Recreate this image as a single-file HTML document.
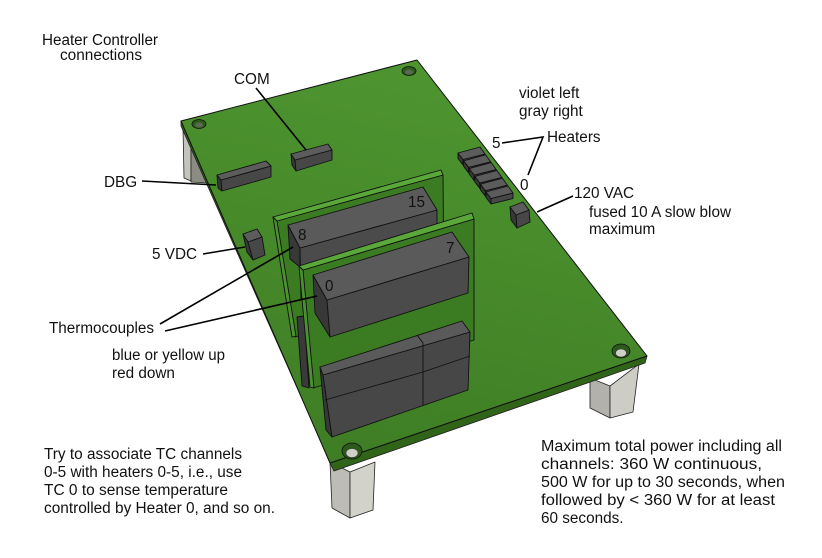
<!DOCTYPE html>
<html><head><meta charset="utf-8"><style>
html,body{margin:0;padding:0;background:#fff;}
svg{display:block;}
text{font-family:"Liberation Sans",Arial,sans-serif;font-size:15.3px;fill:#111;}
</style></head><body>
<svg width="822" height="558" viewBox="0 0 822 558" xmlns="http://www.w3.org/2000/svg">
<defs>
<linearGradient id="bg" x1="417" y1="60" x2="330" y2="463" gradientUnits="userSpaceOnUse">
<stop offset="0" stop-color="#4e9530"/><stop offset="1" stop-color="#3e7d24"/>
</linearGradient>
</defs>
<g stroke="#222" stroke-width="0.8" stroke-linejoin="round">
<!-- posts -->
<polygon points="183,128 191,128 191,181 184,178" fill="#c4c4bc"/>
<polygon points="191,128 202,128 207,183 191,182" fill="#8c8c84"/>
<polygon points="330,462 350,472 350,518 332,508" fill="#bdbdb5"/>
<polygon points="350,472 375,462 373,510 350,518" fill="#d2d2ca"/>
<polygon points="590,378 610,386 610,418 590,408" fill="#b2b2aa"/>
<polygon points="610,386 639,364 633,412 610,418" fill="#cdcdc5"/>
<!-- board -->
<polygon points="181,121 330,463 334,471 181,126" fill="#2f6319"/>
<polygon points="330,463 647,356 645,363 334,471" fill="#2f6419"/>
<polygon points="181,121 417,60 647,356 330,463" fill="url(#bg)" stroke="#111" stroke-width="1"/>
</g>
<!-- holes -->
<ellipse cx="199" cy="124" rx="7" ry="4.5" fill="#2c5a1a" stroke="#111" stroke-width="0.8"/>
<ellipse cx="199" cy="125" rx="4" ry="2.5" fill="#5a6a50"/>
<ellipse cx="409" cy="71" rx="7" ry="4.5" fill="#2c5a1a" stroke="#111" stroke-width="0.8"/>
<ellipse cx="409" cy="72" rx="4" ry="2.5" fill="#5a6a50"/>
<ellipse cx="352" cy="451" rx="10" ry="8" fill="#2c5a1a" stroke="#111" stroke-width="0.8"/>
<ellipse cx="352" cy="453" rx="6" ry="4.5" fill="#cfcfc7" stroke="#333" stroke-width="0.6"/>
<ellipse cx="621" cy="351" rx="9" ry="7" fill="#2c5a1a" stroke="#111" stroke-width="0.8"/>
<ellipse cx="621" cy="353" rx="5.5" ry="4" fill="#cfcfc7" stroke="#333" stroke-width="0.6"/>

<g stroke="#111" stroke-width="0.9" stroke-linejoin="round">
<!-- DBG -->
<polygon points="217,175 221,180 222,191 218,188" fill="#383838"/>
<polygon points="221,180 271,166 271,177 222,191" fill="#474747"/>
<polygon points="217,175 266,161 271,166 221,180" fill="#5c5c5c"/>
<!-- COM -->
<polygon points="291,154 295,160 296,171 292,165" fill="#383838"/>
<polygon points="295,160 332,150 332,160 296,171" fill="#474747"/>
<polygon points="291,154 328,144 332,150 295,160" fill="#5c5c5c"/>
<!-- 5VDC -->
<polygon points="243,234 248,242 253,260 247,252" fill="#383838"/>
<polygon points="248,242 262,237 265,255 253,260" fill="#474747"/>
<polygon points="243,234 257,229 262,237 248,242" fill="#5c5c5c"/>
<!-- heater blocks -->
<g id="hb">
<polygon points="458,153 463,159.5 463,165 458,158.5" fill="#383838"/>
<polygon points="463,159.5 485,154 485,159.5 463,165" fill="#474747"/>
<polygon points="458,153 480,147 485,154 463,159.5" fill="#5c5c5c"/>
</g>
<use href="#hb" transform="translate(5.6,7.8)"/>
<use href="#hb" transform="translate(11.2,15.6)"/>
<use href="#hb" transform="translate(16.8,23.4)"/>
<use href="#hb" transform="translate(22.4,31.2)"/>
<use href="#hb" transform="translate(28,39)"/>
<!-- 120VAC -->
<polygon points="510,207 516,215 517,228 511,220" fill="#383838"/>
<polygon points="516,215 529,210 530,222 517,228" fill="#474747"/>
<polygon points="510,207 523,202 529,210 516,215" fill="#5c5c5c"/>

<!-- card 1 -->
<polygon points="276,221 443,175 444,300 295,337" fill="#3b7b22"/>
<polygon points="273,217 277,221 296,336 292,337" fill="#4a9230"/>
<polygon points="273,217 441,170 443,175 277,221" fill="#5aa83a"/>
<!-- relay 1 -->
<polygon points="288,225 300,248 300,267 290,259" fill="#383838"/>
<polygon points="300,248 437,210 437,280 301,300" fill="#4b4b4b"/>
<polygon points="288,225 423,187 437,210 300,248" fill="#5a5a5a"/>
<!-- dark strip between cards -->
<polygon points="297,317 304,316 309,388 302,386" fill="#3a3a3a"/>
<!-- card 2 -->
<polygon points="303,270 474,219 474,340 313,388" fill="#3b7b22"/>
<polygon points="299,266 303,270 314,388 310,387" fill="#4a9230"/>
<polygon points="299,266 472,213 474,219 303,270" fill="#5aa83a"/>
<!-- relay 2 -->
<polygon points="313,275 327,300 330,337 315,313" fill="#383838"/>
<polygon points="327,300 469,257 468,293 330,337" fill="#4b4b4b"/>
<polygon points="313,275 452,232 469,257 327,300" fill="#5a5a5a"/>
<!-- lower cluster -->
<polygon points="320,367 323,375 332,437 326,430" fill="#383838"/>
<polygon points="323,375 470,332 468,390 332,437" fill="#474747"/>
<polygon points="320,367 462,321 470,332 323,375" fill="#5a5a5a"/>
<line x1="417" y1="335" x2="423" y2="343" />
<line x1="423" y1="343" x2="423" y2="405" />
<polyline points="325,400 423,372 470,356" fill="none"/>
</g>

<!-- relay labels -->
<text x="408" y="207">15</text>
<text x="298" y="240">8</text>
<text x="446" y="253">7</text>
<text x="325" y="291">0</text>

<!-- leader lines -->
<g stroke="#000" stroke-width="1.6" fill="none">
<line x1="256" y1="88" x2="306" y2="150"/>
<line x1="142" y1="181" x2="216" y2="185"/>
<line x1="203" y1="254" x2="245" y2="247"/>
<line x1="160" y1="324" x2="293" y2="247"/>
<line x1="165" y1="331" x2="317" y2="296"/>
<polyline points="502,143 543,137 528,175"/>
<line x1="573" y1="196" x2="537" y2="212"/>
</g>

<!-- text -->
<text x="42" y="45" textLength="116" lengthAdjust="spacingAndGlyphs">Heater Controller</text>
<text x="60" y="60" textLength="82" lengthAdjust="spacingAndGlyphs">connections</text>
<text x="234" y="84">COM</text>
<text x="104" y="187">DBG</text>
<text x="152" y="259">5 VDC</text>
<text x="49" y="333" textLength="105" lengthAdjust="spacingAndGlyphs">Thermocouples</text>
<text x="112" y="360" textLength="113" lengthAdjust="spacingAndGlyphs">blue or yellow up</text>
<text x="112" y="378">red down</text>

<text x="44" y="459" textLength="198" lengthAdjust="spacingAndGlyphs">Try to associate TC channels</text>
<text x="44" y="477" textLength="198" lengthAdjust="spacingAndGlyphs">0-5 with heaters 0-5, i.e., use</text>
<text x="44" y="495" textLength="184" lengthAdjust="spacingAndGlyphs">TC 0 to sense temperature</text>
<text x="44" y="513" textLength="231" lengthAdjust="spacingAndGlyphs">controlled by Heater 0, and so on.</text>

<g style="font-size:16px">
<text x="541" y="451" textLength="241" lengthAdjust="spacingAndGlyphs">Maximum total power including all</text>
<text x="541" y="469" textLength="221" lengthAdjust="spacingAndGlyphs">channels: 360 W continuous,</text>
<text x="541" y="487" textLength="244" lengthAdjust="spacingAndGlyphs">500 W for up to 30 seconds, when</text>
<text x="541" y="505" textLength="234" lengthAdjust="spacingAndGlyphs">followed by &lt; 360 W for at least</text>
<text x="541" y="523">60 seconds.</text>
</g>

<text x="519" y="98">violet left</text>
<text x="519" y="116">gray right</text>
<text x="492" y="148">5</text>
<text x="547" y="142">Heaters</text>
<text x="520" y="190">0</text>
<text x="574" y="198">120 VAC</text>
<text x="589" y="217">fused 10 A slow blow</text>
<text x="589" y="234">maximum</text>
</svg>
</body></html>
